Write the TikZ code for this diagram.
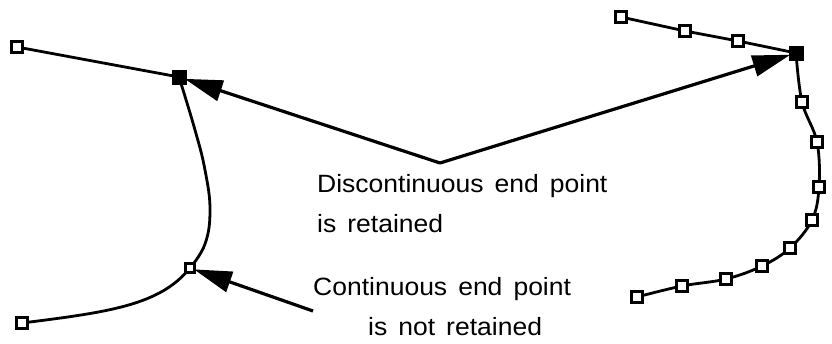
\documentclass[tikz,border=0pt]{standalone}
\usepackage{fontspec}
\setmainfont{Liberation Sans}[FakeStretch=1.06,WordSpace=1.5]
\usetikzlibrary{arrows.meta}
\begin{document}
\begin{tikzpicture}[x=1pt,y=-1pt,
  pt/.style={draw,line width=2.6pt,fill=white,minimum size=10.5pt,inner sep=0pt},
  ptfill/.style={draw,fill=black,line width=1pt,minimum size=14pt,inner sep=0pt},
  curve/.style={line width=2.8pt},
  pointer/.style={line width=3.2pt,-{Triangle[length=38pt,width=21pt]},shorten >=-2pt},
  lbl/.style={anchor=base west,inner sep=0pt,font=\fontsize{25}{30}\selectfont}]
\useasboundingbox (0,0) rectangle (832,343);

% left curve
\coordinate (l1) at (17,47);
\coordinate (l2) at (179,77);
\coordinate (l3) at (190,268);
\coordinate (l4) at (22,323);
\draw[curve] (l1) -- (l2);
\draw[curve] plot[smooth,tension=0.7] coordinates {(l2) (195,130) (205,170) (210,210) (205,244) (l3)};
\draw[curve] (l3) .. controls (160,305) and (110,312) .. (l4);

% right curve
\coordinate (r1) at (621,17);
\coordinate (r2) at (685,31);
\coordinate (r3) at (738,41);
\coordinate (r4) at (796,53);
\coordinate (r5) at (802,102);
\coordinate (r6) at (817,142);
\coordinate (r7) at (819,187);
\coordinate (r8) at (812,220);
\coordinate (r9) at (790,248);
\coordinate (r10) at (762,266);
\coordinate (r11) at (726,279);
\coordinate (r12) at (682,286);
\coordinate (r13) at (637,297);
\draw[curve] (r1) -- (r2) -- (r3) -- (r4);
\draw[curve] plot[smooth,tension=0.6] coordinates {(r4) (r5) (r6) (r7) (r8) (r9) (r10) (r11) (r12) (r13)};

% point markers
\foreach \p in {l1,l4,r1,r2,r3,r5,r6,r7,r8,r9,r10,r11,r12,r13}
  \node[pt] (m\p) at (\p) {};
\node[pt,minimum size=9pt] (ml3) at (l3) {};
\node[ptfill] (ml2) at (l2) {};
\node[ptfill] (mr4) at (r4) {};

% pointers
\coordinate (v) at (440,163);
\coordinate (c) at (313,311);
\draw[pointer] (v) -- (ml2);
\draw[pointer] (v) -- (mr4);
\draw[pointer] (c) -- (ml3);

% labels
\node[lbl] (t1) at (317,192) {Discontinuous end point};
\node[lbl] (t2) at (317,232) {is retained};
\node[lbl] (t3) at (313,295) {Continuous end point};
\node[lbl] (t4) at (368,335) {is not retained};
\end{tikzpicture}
\end{document}
